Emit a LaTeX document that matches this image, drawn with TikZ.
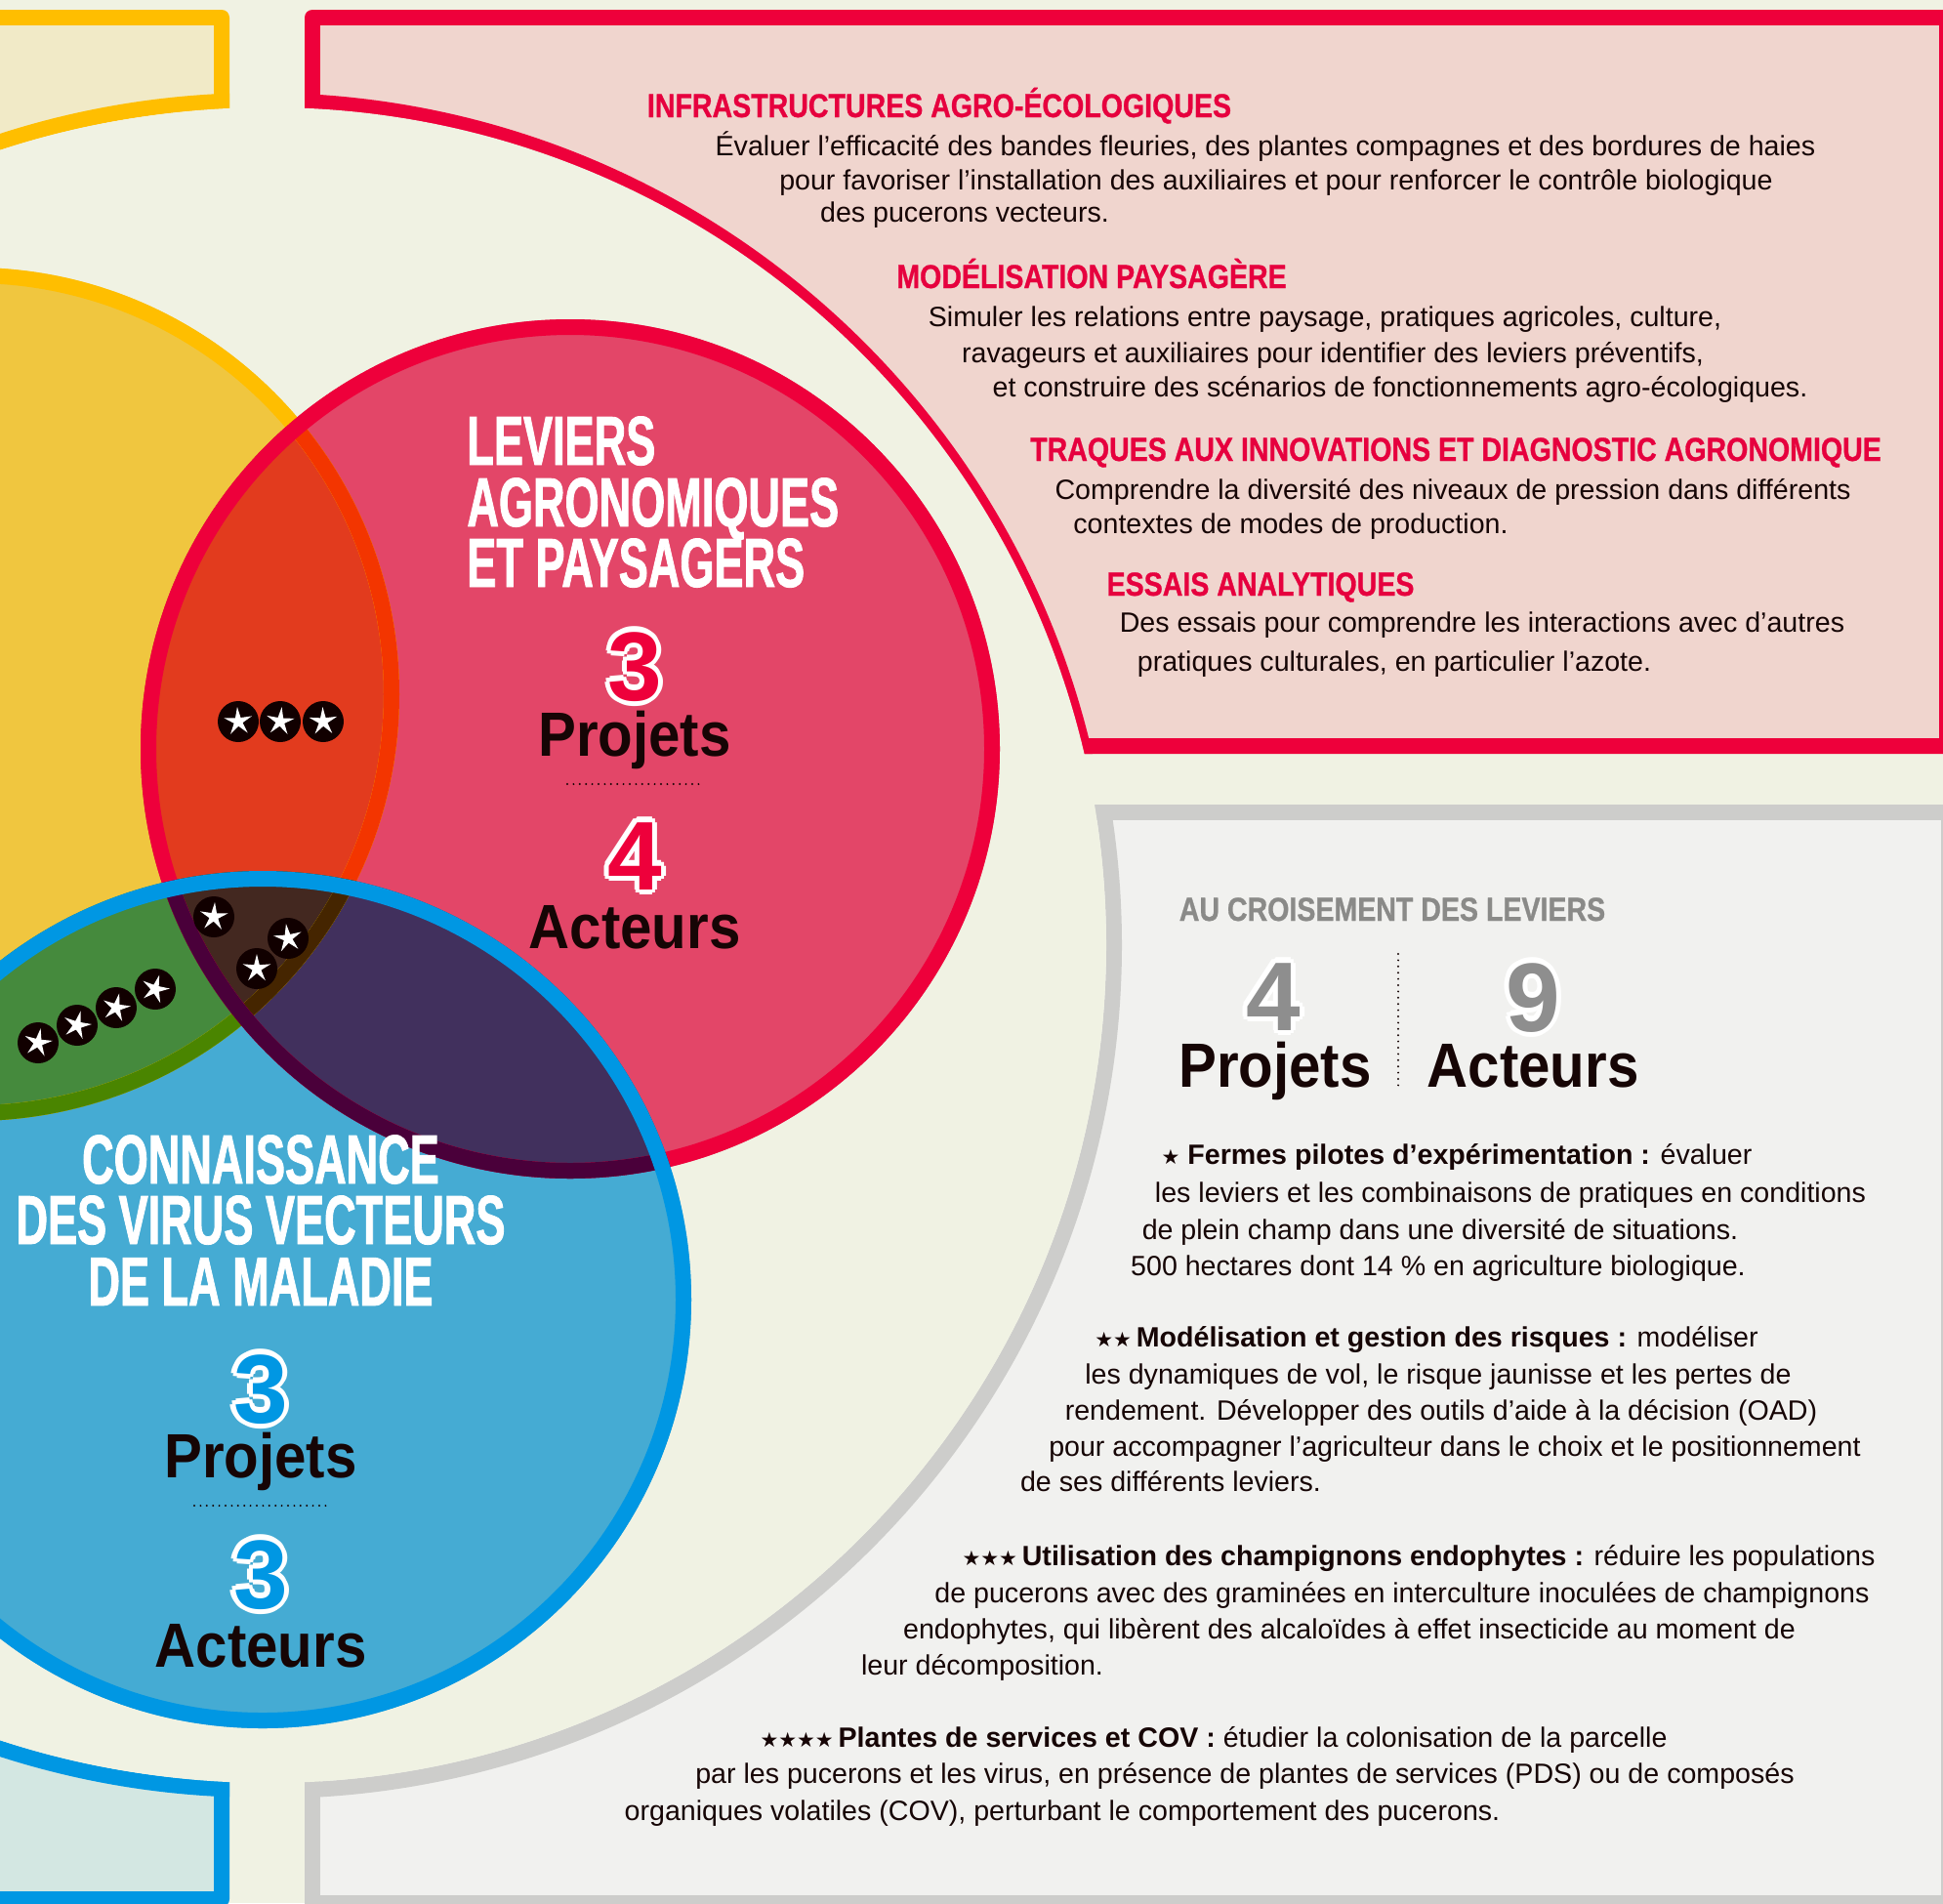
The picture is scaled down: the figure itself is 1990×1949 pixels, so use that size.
\documentclass[tikz,border=0pt]{standalone}
\usepackage{fontspec}
\setmainfont{Liberation Sans}
\newfontfamily\hdbig{Liberation Sans}[FakeStretch=0.635, FakeBold=1.2]
\newfontfamily\hdsmall{Liberation Sans}[FakeStretch=0.84, FakeBold=0.8]
\newfontfamily\wordf{Liberation Sans}[FakeStretch=0.91]
\newfontfamily\symf{DejaVu Sans}
\usetikzlibrary{shapes.geometric}

\definecolor{bgc}{HTML}{F0F2E3}
\definecolor{ink}{HTML}{160505}
\definecolor{yboxfill}{HTML}{F1EAC7}
\definecolor{rboxfill}{HTML}{F0D5CE}
\definecolor{gboxfill}{HTML}{F1F1EF}
\definecolor{bboxfill}{HTML}{D3E7E2}
\definecolor{yline}{HTML}{FFBE00}
\definecolor{rline}{HTML}{EE003B}
\definecolor{gline}{HTML}{CDCDCB}
\definecolor{bline}{HTML}{0097E3}
\definecolor{yfillc}{HTML}{F0C63F}
\definecolor{rfillc}{HTML}{E34668}
\definecolor{bfillc}{HTML}{45ABD3}
\definecolor{yrfill}{HTML}{E23B1E}
\definecolor{ybfill}{HTML}{458A3D}
\definecolor{rbfill}{HTML}{41305D}
\definecolor{yrbfill}{HTML}{432820}
\definecolor{yinr}{HTML}{F33500}
\definecolor{yinb}{HTML}{4A8500}
\definecolor{yinrb}{HTML}{452500}
\definecolor{rinb}{HTML}{4A003A}
\definecolor{badgec}{HTML}{110000}
\definecolor{headred}{HTML}{E6003E}
\definecolor{headgray}{HTML}{8A8A88}
\definecolor{numgray}{HTML}{8E8E8E}

\newcommand\stt{{\symf\fontsize{10.5}{12}\selectfont ★}}

% outlined number: white halo made of shifted copies inside one box
\newcommand\olcopy[3]{\rlap{\kern#1\raisebox{#2}{#3}}}
\newcommand\olnum[2]{\leavevmode{\color{white}%
  \olcopy{2.6pt}{0pt}{#2}\olcopy{-2.6pt}{0pt}{#2}\olcopy{0pt}{2.6pt}{#2}\olcopy{0pt}{-2.6pt}{#2}%
  \olcopy{1.84pt}{1.84pt}{#2}\olcopy{-1.84pt}{1.84pt}{#2}\olcopy{1.84pt}{-1.84pt}{#2}\olcopy{-1.84pt}{-1.84pt}{#2}}%
  {\color{#1}#2}}

\begin{document}
\begin{tikzpicture}[x=0.5pt,y=-0.5pt,
  bodytxt/.style={font=\fontsize{14.3}{17}\selectfont, text=ink, inner sep=0, anchor=base},
  redhead/.style={font=\hdsmall\bfseries\fontsize{17}{20}\selectfont, text=headred, inner sep=0, anchor=base},
  grayhead/.style={font=\hdsmall\bfseries\fontsize{17}{20}\selectfont, text=headgray, inner sep=0, anchor=base},
  bighead/.style={font=\hdbig\bfseries\fontsize{35.5}{40}\selectfont, text=white, inner sep=0},
  numtxt/.style={font=\bfseries\fontsize{50}{55}\selectfont, inner sep=0, anchor=base},
  wordtxt/.style={font=\wordf\bfseries\fontsize{32}{36}\selectfont, text=ink, inner sep=0, anchor=base},
  badge/.style={circle, fill=badgec, minimum size=21pt, inner sep=0},
  wstar/.style={star, star points=5, star point ratio=3.2, fill=white, minimum size=15pt, inner sep=0},
  dotsep/.style={draw=ink, line width=1.1pt, dash pattern=on 0pt off 3.2pt, line cap=round},
  boxedge/.style={line width=16pt},
  arcedge/.style={line width=8pt},
  vennedge/.style={line width=8pt}
]
\useasboundingbox (0,0) rectangle (1990,1949);
\clip (0,0) rectangle (1990,1949);
\fill[bgc] (0,0) rectangle (1990,1949);

\coordinate (ringA) at (268,968);
\coordinate (ringB) at (275,968);

% yellow box (top left)
\begin{scope}
  \clip[rounded corners=4pt] (-60,10) rectangle (235,700);
  \fill[yboxfill] (-60,10) rectangle (235,700);
  \draw[yline, boxedge] (-60,10) rectangle (235,700);
  \draw[yline, arcedge] (ringA) circle[radius=865];
\end{scope}
% red box (top right)
\begin{scope}
  \clip[rounded corners=4pt] (312,10) rectangle (2002,772);
  \fill[rboxfill] (312,10) rectangle (2002,772);
  \draw[rline, boxedge] (312,10) rectangle (2002,772);
  \draw[rline, arcedge] (ringA) circle[radius=865];
\end{scope}
% gray box (bottom right)
\begin{scope}
  \clip[rounded corners=4pt] (312,824) rectangle (2004,1957);
  \fill[gboxfill] (312,824) rectangle (2004,1957);
  \draw[gline, boxedge] (312,824) rectangle (2004,1957);
  \draw[gline, arcedge] (ringB) circle[radius=866];
\end{scope}
% blue box (bottom left)
\begin{scope}
  \clip[rounded corners=4pt] (-60,1300) rectangle (235,1953);
  \fill[bboxfill] (-60,1300) rectangle (235,1953);
  \draw[bline, boxedge] (-60,1300) rectangle (235,1953);
  \draw[bline, arcedge] (ringA) circle[radius=865];
\end{scope}
% central round clearing
\fill[bgc] (ringA) circle[radius=857];
\fill[bgc] (ringB) circle[radius=858];

% Venn circles
\coordinate (yc) at (-28,711);
\coordinate (rc) at (584,767);
\coordinate (bc) at (269,1331);
\fill[yfillc] (yc) circle[radius=437];
\fill[rfillc] (rc) circle[radius=440];
\fill[bfillc] (bc) circle[radius=439];
\begin{scope}
  \clip (rc) circle[radius=440];
  \fill[rbfill] (bc) circle[radius=439];
\end{scope}
\begin{scope}
  \clip (yc) circle[radius=437];
  \fill[yrfill] (rc) circle[radius=440];
  \fill[ybfill] (bc) circle[radius=439];
  \clip (rc) circle[radius=440];
  \fill[yrbfill] (bc) circle[radius=439];
\end{scope}
% yellow circle edge
\draw[yline, vennedge] (yc) circle[radius=429];
\begin{scope}
  \clip (rc) circle[radius=440];
  \draw[yinr, vennedge] (yc) circle[radius=429];
\end{scope}
\begin{scope}
  \clip (bc) circle[radius=439];
  \draw[yinb, vennedge] (yc) circle[radius=429];
  \clip (rc) circle[radius=440];
  \draw[yinrb, vennedge] (yc) circle[radius=429];
\end{scope}
% red circle edge
\draw[rline, vennedge] (rc) circle[radius=432];
\begin{scope}
  \clip (bc) circle[radius=439];
  \draw[rinb, vennedge] (rc) circle[radius=432];
\end{scope}
% blue circle edge
\draw[bline, vennedge] (bc) circle[radius=431];

% star badges
\node[badge] (s1) at (244,739) {};  \node[wstar, rotate=4]  at (s1) {};
\node[badge] (s2) at (287,739) {};  \node[wstar, rotate=-6] at (s2) {};
\node[badge] (s3) at (331,739) {};  \node[wstar, rotate=2]  at (s3) {};
\node[badge] (s4) at (219,939) {};  \node[wstar, rotate=-4] at (s4) {};
\node[badge] (s5) at (295,961) {};  \node[wstar, rotate=8]  at (s5) {};
\node[badge] (s6) at (263,992) {};  \node[wstar, rotate=0]  at (s6) {};
\node[badge] (s7) at (39,1068) {};  \node[wstar, rotate=-10] at (s7) {};
\node[badge] (s8) at (79,1050) {};  \node[wstar, rotate=-14] at (s8) {};
\node[badge] (s9) at (119,1032) {}; \node[wstar, rotate=-12] at (s9) {};
\node[badge] (s10) at (159,1013) {}; \node[wstar, rotate=-16] at (s10) {};

% red circle texts
\node[bighead, anchor=base west] (rh1) at (478,476) {LEVIERS};
\node[bighead, anchor=base west] (rh2) at (478,539) {AGRONOMIQUES};
\node[bighead, anchor=base west] (rh3) at (478,601) {ET PAYSAGERS};
\node[numtxt] (rn1) at (650,717) {\olnum{rline}{3}};
\node[wordtxt] (rw1) at (650,774) {Projets};
\coordinate (rd1) at (581,803);
\coordinate (rd2) at (720,803);
\draw[dotsep] (rd1) -- (rd2);
\node[numtxt] (rn2) at (650,911) {\olnum{rline}{4}};
\node[wordtxt] (rw2) at (650,971) {Acteurs};

% blue circle texts
\node[bighead, anchor=base] (bh1) at (267,1212) {CONNAISSANCE};
\node[bighead, anchor=base] (bh2) at (267,1274) {DES VIRUS VECTEURS};
\node[bighead, anchor=base] (bh3) at (267,1337) {DE LA MALADIE};
\node[numtxt] (bn1) at (267,1457) {\olnum{bline}{3}};
\node[wordtxt] (bw1) at (267,1513) {Projets};
\coordinate (bd1) at (199,1542);
\coordinate (bd2) at (336,1542);
\draw[dotsep] (bd1) -- (bd2);
\node[numtxt] (bn2) at (267,1647) {\olnum{bline}{3}};
\node[wordtxt] (bw2) at (267,1707) {Acteurs};

% red box texts
\node[redhead] (h1) at (962,120) {INFRASTRUCTURES AGRO-ÉCOLOGIQUES};
\node[bodytxt] (a1) at (1296,159) {Évaluer l’efficacité des bandes fleuries, des plantes compagnes et des bordures de haies};
\node[bodytxt] (a2) at (1307,194) {pour favoriser l’installation des auxiliaires et pour renforcer le contrôle biologique};
\node[bodytxt] (a3) at (988,227) {des pucerons vecteurs.};
\node[redhead] (h2) at (1118,295) {MODÉLISATION PAYSAGÈRE};
\node[bodytxt] (b1) at (1357,334) {Simuler les relations entre paysage, pratiques agricoles, culture,};
\node[bodytxt] (b2) at (1365,371) {ravageurs et auxiliaires pour identifier des leviers préventifs,};
\node[bodytxt] (b3) at (1434,406) {et construire des scénarios de fonctionnements agro-écologiques.};
\node[redhead] (h3) at (1491,472) {TRAQUES AUX INNOVATIONS ET DIAGNOSTIC AGRONOMIQUE};
\node[bodytxt] (c1) at (1488,511) {Comprendre la diversité des niveaux de pression dans différents};
\node[bodytxt] (c2) at (1322,546) {contextes de modes de production.};
\node[redhead] (h4) at (1291,610) {ESSAIS ANALYTIQUES};
\node[bodytxt] (d1) at (1518,647) {Des essais pour comprendre les interactions avec d’autres};
\node[bodytxt] (d2) at (1428,687) {pratiques culturales, en particulier l’azote.};

% gray box texts
\node[grayhead] (gh) at (1426,943) {AU CROISEMENT DES LEVIERS};
\node[numtxt] (gn1) at (1304,1055) {\olnum{numgray}{4}};
\node[numtxt] (gn2) at (1570,1056) {\olnum{numgray}{9}};
\node[wordtxt] (gw1) at (1306,1113) {Projets};
\node[wordtxt] (gw2) at (1570,1113) {Acteurs};
\coordinate (gd1) at (1432,977);
\coordinate (gd2) at (1432,1115);
\draw[dotsep] (gd1) -- (gd2);

\node[bodytxt] (f1) at (1492,1192) {\stt~\textbf{Fermes pilotes d’expérimentation~:} évaluer};
\node[bodytxt] (f2) at (1547,1231) {les leviers et les combinaisons de pratiques en conditions};
\node[bodytxt] (f3) at (1475,1269) {de plein champ dans une diversité de situations.};
\node[bodytxt] (f4) at (1473,1306) {500 hectares dont 14~\% en agriculture biologique.};
\node[bodytxt] (f5) at (1461,1379) {\stt\stt\,\textbf{Modélisation et gestion des risques~:} modéliser};
\node[bodytxt] (f6) at (1473,1417) {les dynamiques de vol, le risque jaunisse et les pertes de};
\node[bodytxt] (f7) at (1476,1454) {rendement. Développer des outils d’aide à la décision (OAD)};
\node[bodytxt] (f8) at (1490,1491) {pour accompagner l’agriculteur dans le choix et le positionnement};
\node[bodytxt] (f9) at (1199,1527) {de ses différents leviers.};
\node[bodytxt] (f10) at (1453,1603) {\stt\stt\stt\,\textbf{Utilisation des champignons endophytes~:} réduire les populations};
\node[bodytxt] (f11) at (1436,1641) {de pucerons avec des graminées en interculture inoculées de champignons};
\node[bodytxt] (f12) at (1382,1678) {endophytes, qui libèrent des alcaloïdes à effet insecticide au moment de};
\node[bodytxt] (f13) at (1006,1715) {leur décomposition.};
\node[bodytxt] (f14) at (1243,1789) {\stt\stt\stt\stt\,\textbf{Plantes de services et COV~:} étudier la colonisation de la parcelle};
\node[bodytxt] (f15) at (1275,1826) {par les pucerons et les virus, en présence de plantes de services (PDS) ou de composés};
\node[bodytxt] (f16) at (1088,1864) {organiques volatiles (COV), perturbant le comportement des pucerons.};
\end{tikzpicture}
\end{document}
